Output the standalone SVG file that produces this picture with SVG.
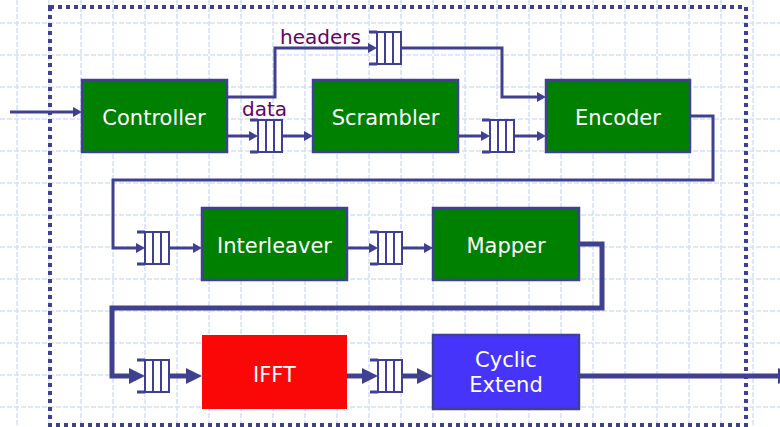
<svg xmlns="http://www.w3.org/2000/svg" xmlns:xlink="http://www.w3.org/1999/xlink" width="780" height="427" viewBox="0 0 780 427">
  <style>
    .grid { stroke: #d6e0fa; stroke-width: 1.6; stroke-dasharray: 5 2; fill: none; }
    .frame { fill: none; stroke: #404090; stroke-width: 4; stroke-dasharray: 4 4; }
    .wire { fill: none; stroke: #404090; stroke-width: 3; stroke-linejoin: miter; }
    .bus { fill: none; stroke: #404090; stroke-width: 5; stroke-linejoin: miter; }
    .box { stroke: #404090; stroke-width: 2.5; }
    .green { fill: #008000; }
    .label { font-family: "DejaVu Sans", Verdana, sans-serif; font-size: 21px; fill: #ffffff; text-anchor: middle; }
    .tag { font-family: "DejaVu Sans", Verdana, sans-serif; font-size: 20px; fill: #660066; }
    .q { fill: #ffffff; stroke: #404090; stroke-width: 2; }
    .qline { stroke: #404090; stroke-width: 2; }
    .qstub { stroke: #404090; stroke-width: 3; }
  </style>
  <defs>
    <marker id="arrow" markerUnits="userSpaceOnUse" markerWidth="9" markerHeight="10" refX="2" refY="5" orient="auto">
      <path d="M0,0 L9,5 L0,10 z" fill="#404090"/>
    </marker>
    <marker id="arrowBig" markerUnits="userSpaceOnUse" markerWidth="16" markerHeight="16" refX="3" refY="8" orient="auto">
      <path d="M0,0 L16,8 L0,16 z" fill="#404090"/>
    </marker>
    <!-- FIFO queue: three cells with an open left bracket -->
    <g id="fifo">
      <rect class="q" x="0" y="0" width="24" height="32"/>
      <line class="qline" x1="8" y1="0" x2="8" y2="32"/>
      <line class="qline" x1="16" y1="0" x2="16" y2="32"/>
      <line class="qstub" x1="-8" y1="0" x2="0" y2="0"/>
      <line class="qstub" x1="-8" y1="32" x2="0" y2="32"/>
    </g>
  </defs>

  <rect width="780" height="427" fill="#ffffff"/>

  <!-- background grid -->
  <g id="grid" class="grid">
    <path d="M17,0V427 M49,0V427 M81,0V427 M113,0V427 M145,0V427 M177,0V427 M209,0V427 M241,0V427 M273,0V427 M305,0V427 M337,0V427 M369,0V427 M401,0V427 M433,0V427 M465,0V427 M497,0V427 M529,0V427 M561,0V427 M593,0V427 M625,0V427 M657,0V427 M689,0V427 M721,0V427 M753,0V427"/>
    <path d="M0,23H780 M0,55H780 M0,87H780 M0,119H780 M0,151H780 M0,183H780 M0,215H780 M0,247H780 M0,279H780 M0,311H780 M0,343H780 M0,375H780 M0,407H780"/>
  </g>

  <!-- transmitter boundary -->
  <rect id="boundary" class="frame" x="50" y="7" width="696" height="418"/>

  <!-- connectors -->
  <g id="connectors">
    <path class="wire" d="M10,112 H75" marker-end="url(#arrow)"/>
    <path class="wire" d="M227,97 H275 V48 H370" marker-end="url(#arrow)"/>
    <path class="wire" d="M227,136 H251" marker-end="url(#arrow)"/>
    <path class="wire" d="M282,136 H306" marker-end="url(#arrow)"/>
    <path class="wire" d="M458,136 H483" marker-end="url(#arrow)"/>
    <path class="wire" d="M514,136 H539" marker-end="url(#arrow)"/>
    <path class="wire" d="M402,48 H502 V97 H539" marker-end="url(#arrow)"/>
    <path class="wire" d="M690,116 H713 V180 H113 V248 H138" marker-end="url(#arrow)"/>
    <path class="wire" d="M169,248 H195" marker-end="url(#arrow)"/>
    <path class="wire" d="M347,248 H371" marker-end="url(#arrow)"/>
    <path class="wire" d="M402,248 H426" marker-end="url(#arrow)"/>
    <path class="bus" d="M579,244 H602 V308 H112 V376 H132" marker-end="url(#arrowBig)"/>
    <path class="bus" d="M169,376 H189" marker-end="url(#arrowBig)"/>
    <path class="bus" d="M347,376 H365" marker-end="url(#arrowBig)"/>
    <path class="bus" d="M402,376 H420" marker-end="url(#arrowBig)"/>
    <path class="bus" d="M579,376 H781" marker-end="url(#arrowBig)"/>
    <text class="tag" x="280" y="44">headers</text>
    <text class="tag" x="242" y="116">data</text>
  </g>

  <!-- queues -->
  <g id="q-headers"><use xlink:href="#fifo" x="377" y="32"/></g>
  <g id="q-data"><use xlink:href="#fifo" x="258" y="120"/></g>
  <g id="q-scrambled"><use xlink:href="#fifo" x="490" y="120"/></g>
  <g id="q-encoded"><use xlink:href="#fifo" x="145" y="232"/></g>
  <g id="q-interleaved"><use xlink:href="#fifo" x="378" y="232"/></g>
  <g id="q-mapped"><use xlink:href="#fifo" x="145" y="360"/></g>
  <g id="q-ifft"><use xlink:href="#fifo" x="378" y="360"/></g>

  <!-- processing blocks -->
  <g id="controller">
    <rect class="box green" x="82" y="80" width="145" height="72"/>
    <text class="label" x="154" y="124.5">Controller</text>
  </g>
  <g id="scrambler">
    <rect class="box green" x="313" y="80" width="145" height="72"/>
    <text class="label" x="385.5" y="124.5">Scrambler</text>
  </g>
  <g id="encoder">
    <rect class="box green" x="546" y="80" width="144" height="72"/>
    <text class="label" x="618" y="124.5">Encoder</text>
  </g>
  <g id="interleaver">
    <rect class="box green" x="202" y="208" width="145" height="72"/>
    <text class="label" x="274.5" y="252.5">Interleaver</text>
  </g>
  <g id="mapper">
    <rect class="box green" x="433" y="208" width="146" height="72"/>
    <text class="label" x="506" y="252.5">Mapper</text>
  </g>
  <g id="ifft">
    <rect x="202" y="335" width="145" height="74" fill="#fa0808"/>
    <text class="label" x="274.5" y="382">IFFT</text>
  </g>
  <g id="cyclic-extend">
    <rect class="box" x="433" y="335" width="146" height="74" fill="#4634fa"/>
    <text class="label" x="506" y="367">Cyclic</text>
    <text class="label" x="506" y="392">Extend</text>
  </g>
</svg>
